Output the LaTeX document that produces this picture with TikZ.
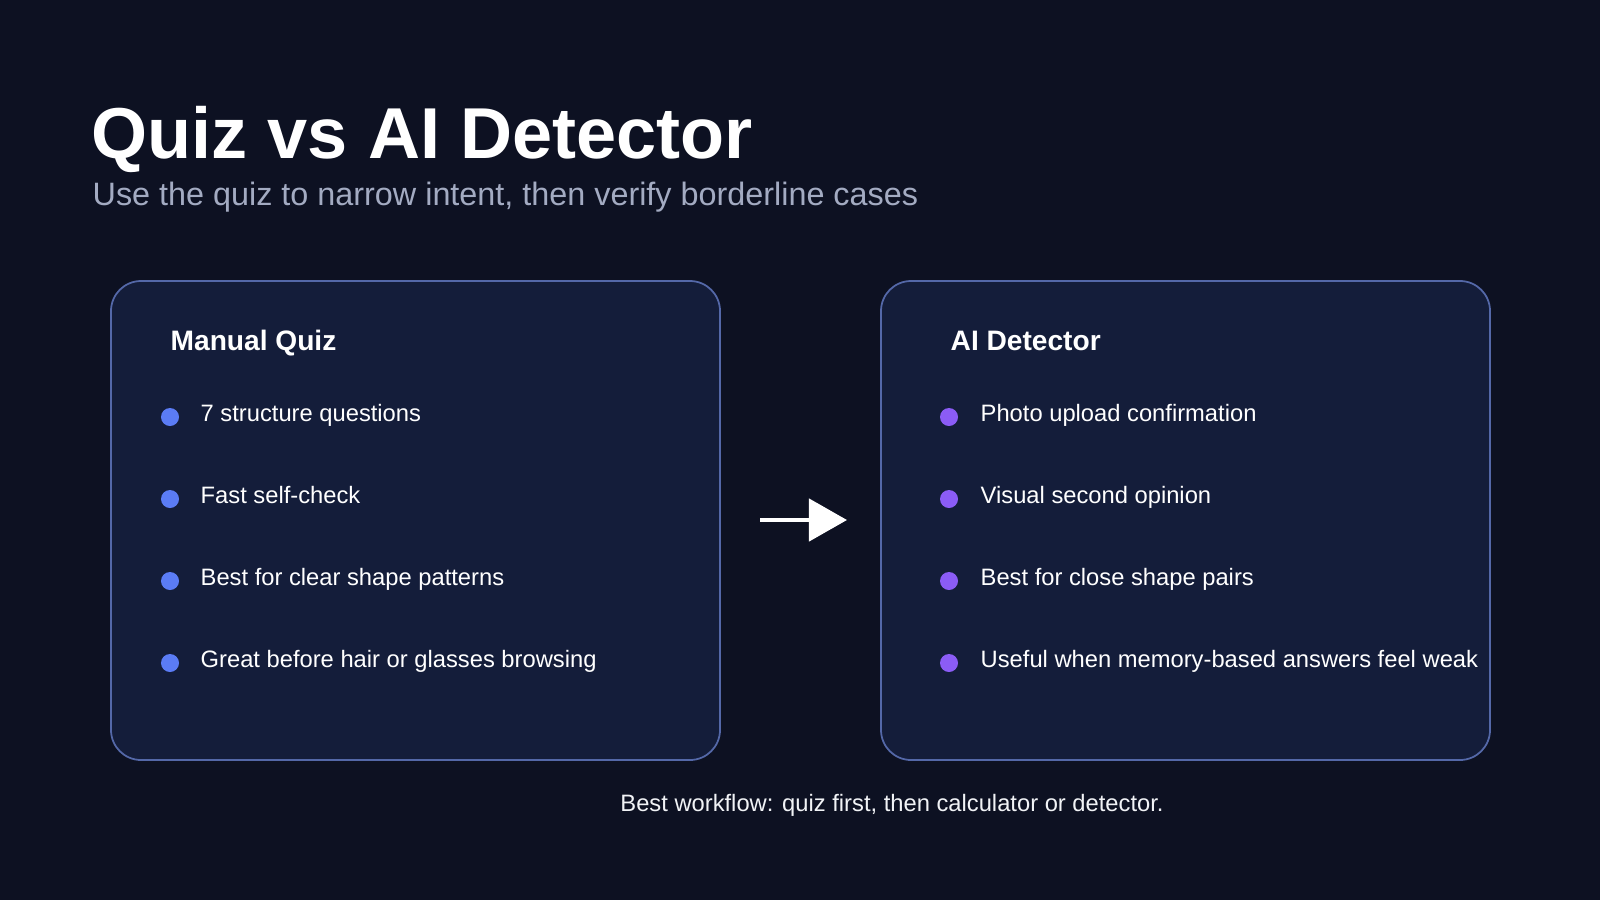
\documentclass[tikz,border=0pt]{standalone}
\usepackage{fontspec}
\setmainfont{Liberation Sans}
\usetikzlibrary{positioning, arrows.meta}
\definecolor{bgdark}{HTML}{0D1122}
\definecolor{cardfill}{HTML}{141D3A}
\definecolor{cardline}{HTML}{5468A8}
\definecolor{dotblue}{HTML}{5B7CF5}
\definecolor{dotpurple}{HTML}{8B5CF6}
\definecolor{subgray}{HTML}{A3ABC2}
\tikzset{x=0.01cm, y=-0.01cm,
  card/.style={draw=cardline, line width=0.5pt, fill=cardfill, rounded corners=0.3cm},
  head/.style={anchor=base west, inner sep=0pt, text=white, font=\bfseries\fontsize{8}{9}\selectfont},
  item/.style={anchor=base west, inner sep=0pt, text=white, font=\fontsize{6.75}{8}\selectfont},
  dot/.style={circle, inner sep=0pt, minimum size=0.18cm}}
\begin{document}
\begin{tikzpicture}
\fill[bgdark] (0,0) rectangle (1600,900);
\useasboundingbox (0,0) rectangle (1600,900);
\node[anchor=base west, inner sep=0pt, text=white, font=\bfseries\fontsize{20.5}{24}\selectfont] (title) at (91,158) {Quiz vs AI Detector};
\node[anchor=base west, inner sep=0pt, text=subgray, font=\fontsize{9.2}{11}\selectfont] (subtitle) at (92,205) {Use the quiz to narrow intent, then verify borderline cases};
% cards
\draw[card] (111,281) rectangle (720,760);
\draw[card] (881,281) rectangle (1490,760);
\node[head] (quiz) at (170,350) {Manual Quiz};
\node[head] (det) at (950,350) {AI Detector};
\foreach \t [count=\i] in {7 structure questions, Fast self-check, Best for clear shape patterns, Great before hair or glasses browsing} {
  \node[dot, fill=dotblue] (qd\i) at (170,335+82*\i) {};
  \node[item] (qi\i) at (200,339+82*\i) {\t};
}
\foreach \t [count=\i] in {Photo upload confirmation, Visual second opinion, Best for close shape pairs, Useful when memory-based answers feel weak} {
  \node[dot, fill=dotpurple] (dd\i) at (949,335+82*\i) {};
  \node[item] (di\i) at (980,339+82*\i) {\t};
}
% arrow
\coordinate (a1) at (760,520);
\coordinate (a2) at (847,520);
\draw[white, line width=1.3pt, -{Triangle[length=0.38cm, width=0.42cm]}] (a1) -- (a2);
\node[item, anchor=base, text=white!85!subgray] (foot) at (892,811) {Best workflow: quiz first, then calculator or detector.};
\end{tikzpicture}
\end{document}
